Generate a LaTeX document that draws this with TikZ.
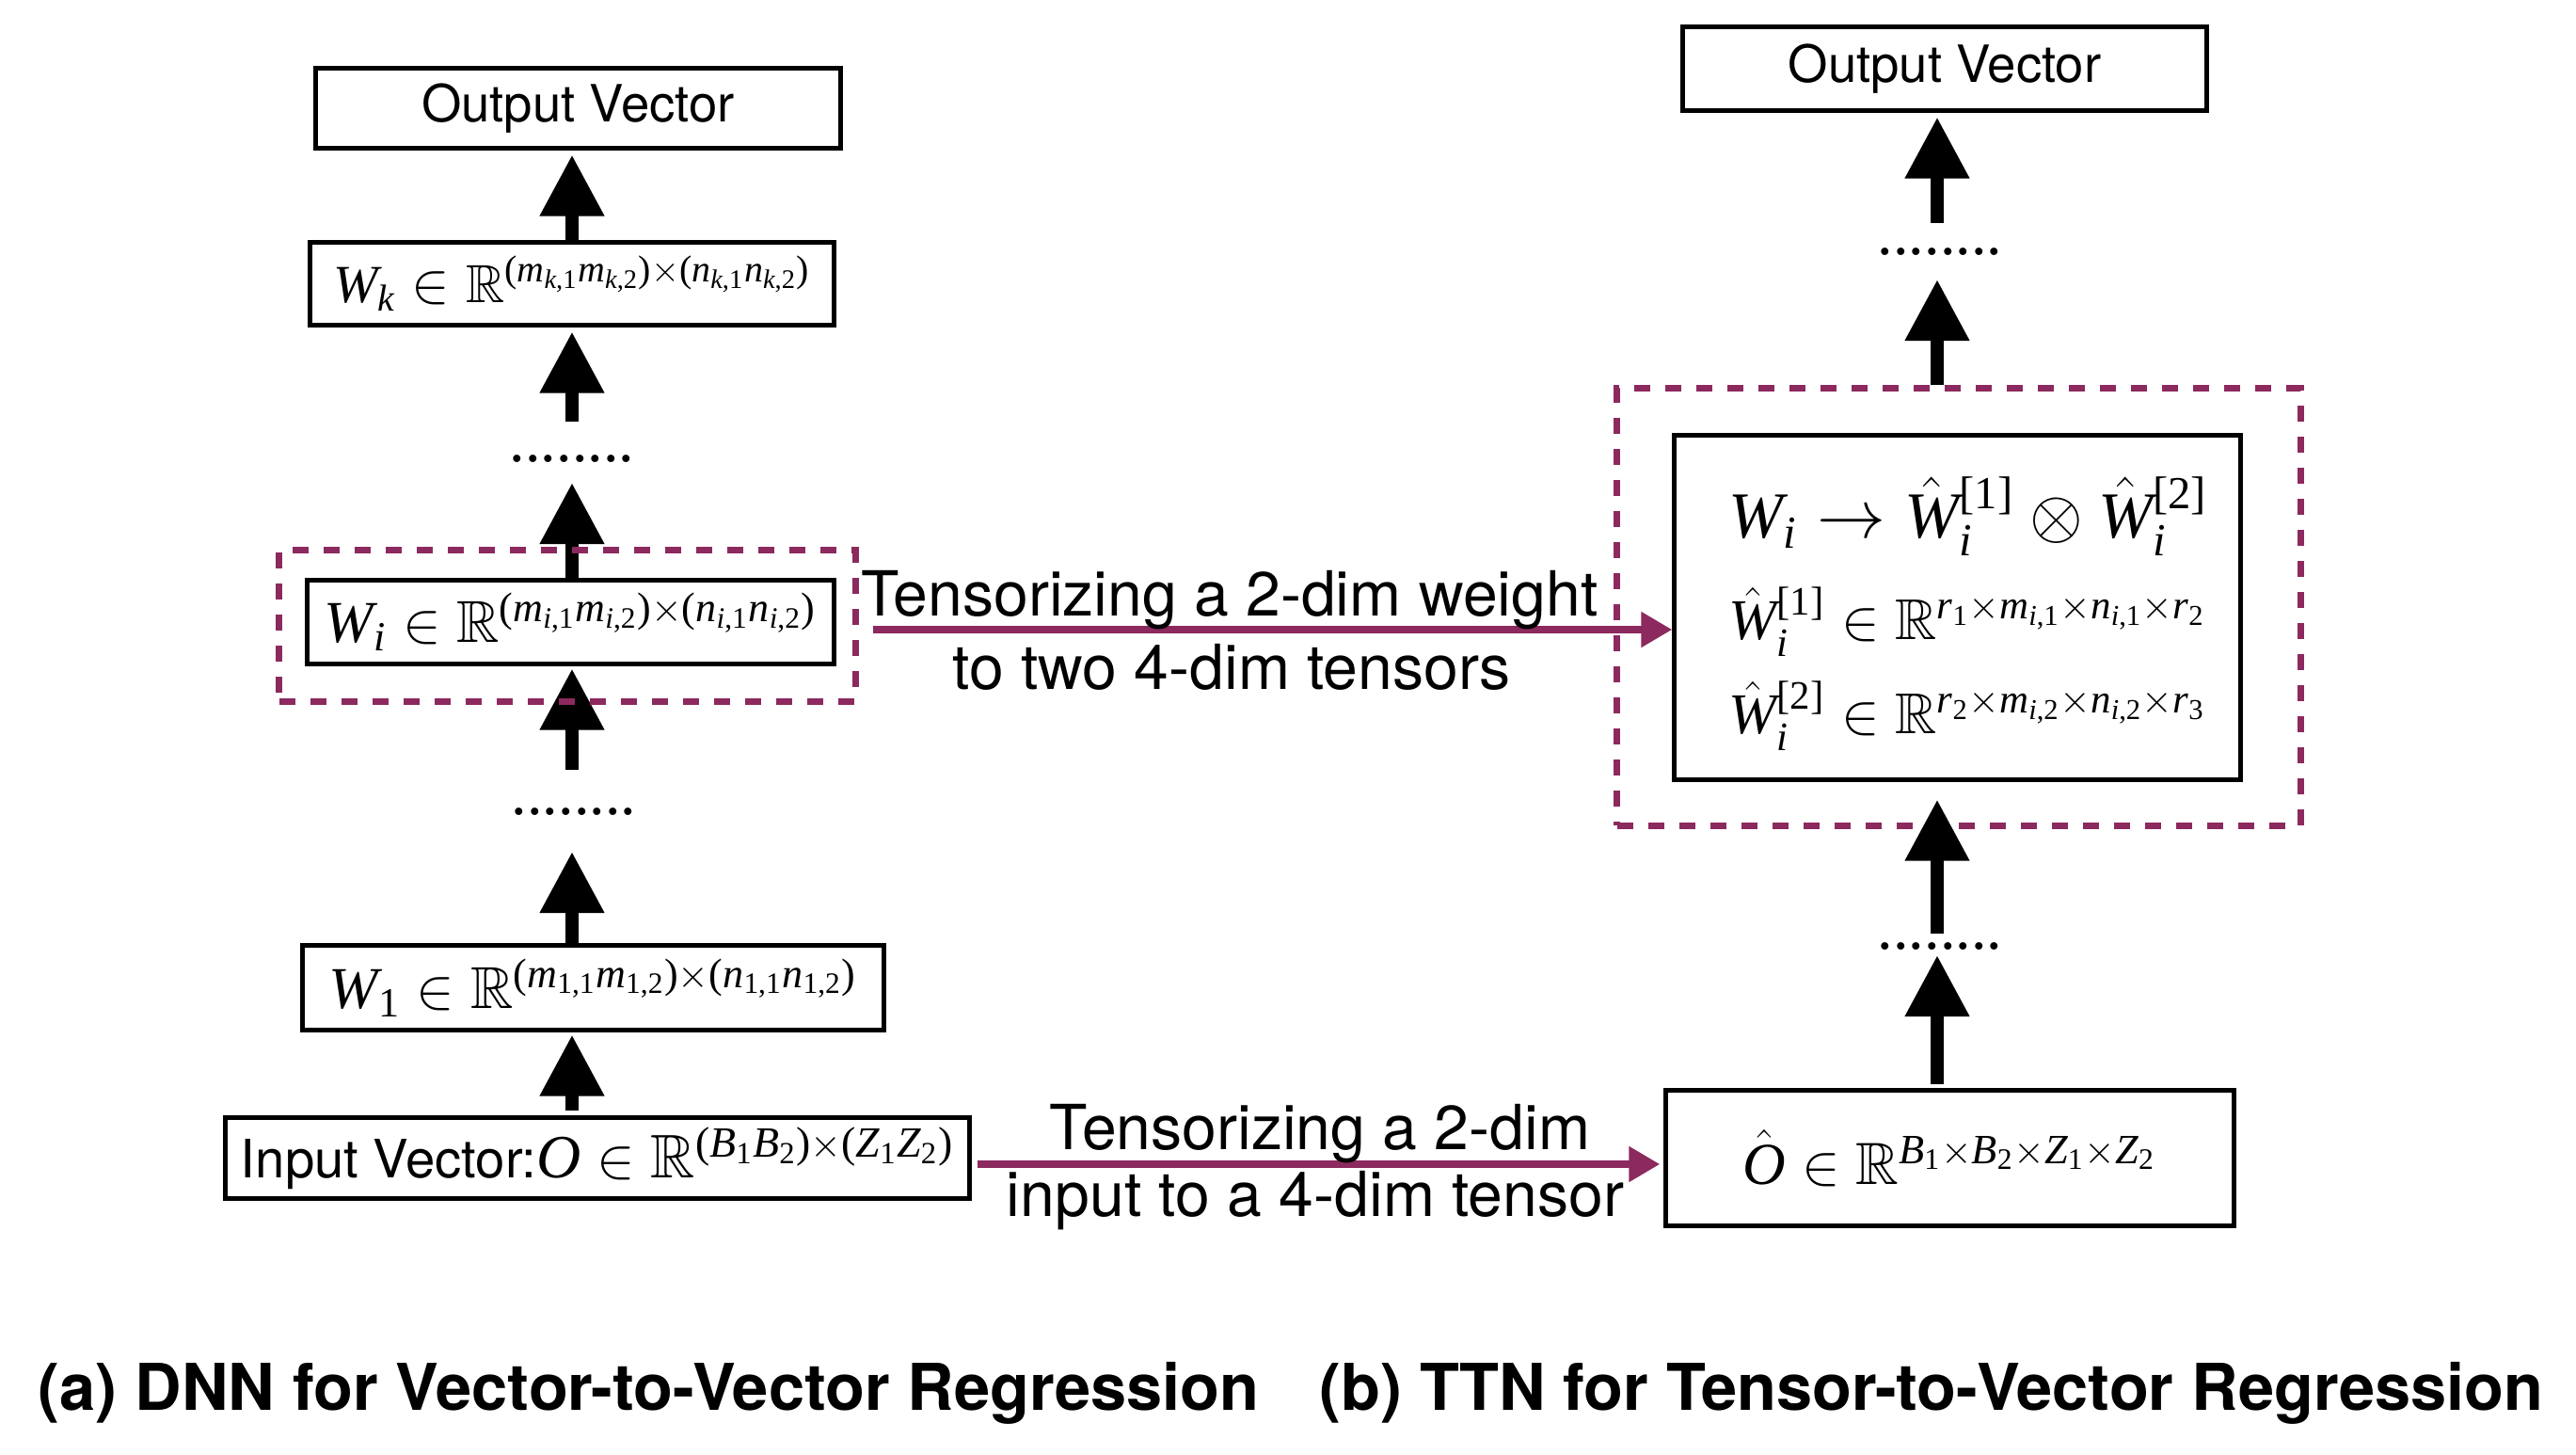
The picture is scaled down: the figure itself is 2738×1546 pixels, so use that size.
\documentclass[tikz,border=0pt]{standalone}
\usepackage[no-math]{fontspec}
\usepackage{amssymb}
\setmainfont{TeX Gyre Heros}
\newfontfamily\dotfont{Liberation Serif}[NFSSFamily=lserif]
\DeclareSymbolFont{letters}{TU}{lserif}{m}{it}
\DeclareSymbolFont{operators}{TU}{lserif}{m}{n}
\DeclareSymbolFont{cmops}{OT1}{cmr}{m}{n}
\DeclareMathAccent{\hat}{\mathalpha}{cmops}{"5E}
\DeclareMathSymbol{,}{\mathpunct}{operators}{"2C}
\usetikzlibrary{arrows.meta}
\definecolor{plum}{RGB}{140,41,94}
\begin{document}
\begin{tikzpicture}[x=0.01cm,y=-0.01cm,
  box/.style={draw=black, line width=0.05cm, inner sep=0pt, rectangle},
  bigarrow/.style={draw=black, line width=0.14cm, -{Triangle[length=0.65cm,width=0.65cm]}},
  parrow/.style={draw=plum, color=plum, line width=0.08cm, -{Triangle[length=0.33cm,width=0.36cm]}},
  dbox/.style={draw=plum, line width=0.07cm, dash pattern=on 0.17cm off 0.16cm, inner sep=0pt, rectangle},
  dotsn/.style={inner sep=0pt, text height=0pt, text depth=0pt, font=\dotfont\fontsize{18.8}{20}\selectfont},
  lbl/.style={font=\fontsize{18.8}{22}\selectfont, inner sep=0pt, anchor=base},
  boxtxt/.style={font=\fontsize{15.5}{18}\selectfont},
  eqbig/.style={font=\fontsize{19.8}{24}\selectfont, inner sep=0pt, anchor=base west},
  eqsm/.style={font=\fontsize{17.4}{22}\selectfont, inner sep=0pt, anchor=base west},
  captxt/.style={font=\bfseries\fontsize{19.5}{22}\selectfont, inner sep=0pt, anchor=base west}]
\fill[white] (0,0) rectangle (2738,1546);
\useasboundingbox (0,0) rectangle (2738,1546);

\coordinate (cL) at (608,0);
\coordinate (cR) at (2059,0);

% left column
\node[box, boxtxt, minimum width=5.57cm, minimum height=0.84cm] (outL) at (614.5,115) {Output Vector};
\node[box, font=\fontsize{16.2}{20}\selectfont, minimum width=5.56cm, minimum height=0.87cm] (wk) at (608,301.5)
  {$W_k \in \mathbb{R}^{(m_{k,1}m_{k,2})\times(n_{k,1}n_{k,2})}$};
\node[dotsn] (dotsL1) at (608,490.5) {........};
\node[box, font=\fontsize{17.9}{22}\selectfont, minimum width=5.59cm, minimum height=0.88cm] (wi) at (606.5,661)
  {$W_i \in \mathbb{R}^{(m_{i,1}m_{i,2})\times(n_{i,1}n_{i,2})}$};
\node[dotsn] (dotsL2) at (610,865.5) {........};
\node[box, font=\fontsize{17.9}{22}\selectfont, minimum width=6.17cm, minimum height=0.89cm] (w1) at (630.5,1049.5)
  {$W_1 \in \mathbb{R}^{(m_{1,1}m_{1,2})\times(n_{1,1}n_{1,2})}$};
\node[box, minimum width=7.90cm, minimum height=0.85cm] (inp) at (635,1230.5)
  {{\fontsize{16}{18}\selectfont Input Vector:}{\fontsize{18.6}{22}\selectfont$O \in \mathbb{R}^{(B_1B_2)\times(Z_1Z_2)}$}};

% right column
\node[box, boxtxt, minimum width=5.56cm, minimum height=0.88cm] (outR) at (2067,73) {Output Vector};
\node[dotsn] (dotsR1) at (2062,270.5) {........};
\node[box, minimum width=6.01cm, minimum height=3.65cm] (inner) at (2080.5,645.5) {};
\node[eqbig] (eq1) at (1837,572) {$W_i \rightarrow \hat{W}_i^{[1]} \otimes \hat{W}_i^{[2]}$};
\node[eqsm] (eq2) at (1837,680) {$\hat{W}_i^{[1]} \in \mathbb{R}^{r_1\times m_{i,1}\times n_{i,1}\times r_2}$};
\node[eqsm] (eq3) at (1837,780) {$\hat{W}_i^{[2]} \in \mathbb{R}^{r_2\times m_{i,2}\times n_{i,2}\times r_3}$};
\node[dotsn] (dotsR2) at (2062,1008.5) {........};
\node[box, minimum width=6.03cm, minimum height=1.43cm] (ohat) at (2072.5,1230.5)
  {\fontsize{18}{22}\selectfont$\hat{O} \in \mathbb{R}^{B_1\times B_2\times Z_1\times Z_2}$};

% black arrows, left
\draw[bigarrow, shorten >=0.05cm] (wk.north -| cL) -- (outL.south -| cL);
\draw[bigarrow, shorten <=0.425cm, shorten >=0.05cm] (dotsL1.center -| cL) -- (wk.south -| cL);
\draw[bigarrow, shorten >=0.225cm] (wi.north -| cL) -- (dotsL1.center -| cL);
\draw[bigarrow, shorten <=0.475cm, shorten >=0.03cm] (dotsL2.center -| cL) -- (wi.south -| cL);
\draw[bigarrow, shorten >=0.395cm] (w1.north -| cL) -- (dotsL2.center -| cL);
\draw[bigarrow, shorten <=0.05cm, shorten >=0.03cm] (inp.north -| cL) -- (w1.south -| cL);

% black arrows, right
\node[dbox, minimum width=7.26cm, minimum height=4.64cm] (dashR) at (2082,645) {};
\draw[bigarrow, shorten <=0.335cm, shorten >=0.05cm] (dotsR1.center -| cR) -- (outR.south -| cR);
\draw[bigarrow, shorten >=0.265cm] (dashR.north -| cR) -- (dotsR1.center -| cR);
\draw[bigarrow, shorten <=0.165cm, shorten >=0.19cm] (dotsR2.center -| cR) -- (inner.south -| cR);
\draw[bigarrow, shorten <=0.04cm, shorten >=0.065cm] (ohat.north -| cR) -- (dotsR2.center -| cR);

% dashed highlight on the left
\node[dbox, minimum width=6.12cm, minimum height=1.60cm] (dashL) at (603,665) {};

% purple arrows and labels
\coordinate (p1) at (928,669);
\draw[parrow] (p1) -- (p1 -| inner.west);
\draw[parrow, shorten <=0.06cm, shorten >=0.04cm] ([yshift=-0.065cm]inp.east) -- ([yshift=-0.065cm]ohat.west);
\node[lbl] (t1) at (1307,655) {Tensorizing a 2-dim weight};
\node[lbl] (t2) at (1309,732) {to two 4-dim tensors};
\node[lbl] (t3) at (1403,1221) {Tensorizing a 2-dim};
\node[lbl] (t4) at (1398,1292) {input to a 4-dim tensor};

% captions
\node[captxt] (capA) at (40,1498) {(a) DNN for Vector-to-Vector Regression};
\node[captxt] (capB) at (1402,1498) {(b) TTN for Tensor-to-Vector Regression};
\end{tikzpicture}
\end{document}
